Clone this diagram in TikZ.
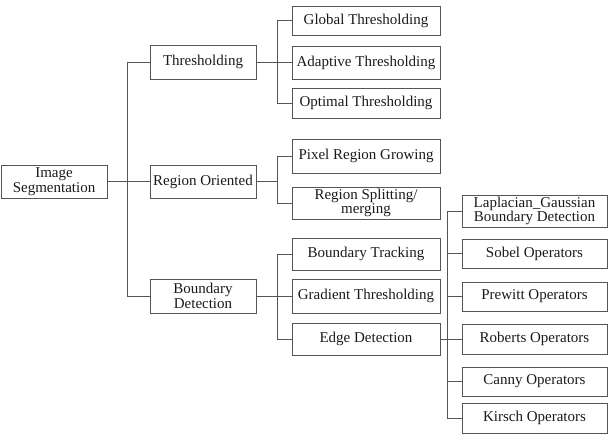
\documentclass[tikz,border=0pt]{standalone}
\usepackage{fontspec}
\setmainfont{Liberation Serif}
\usetikzlibrary{positioning}
\definecolor{rule}{HTML}{555555}
\definecolor{ink}{HTML}{1a1a1a}

\begin{document}
\begin{tikzpicture}[
  x=1pt, y=-1pt,
  every node/.style={font=\fontsize{15}{14.5}\selectfont, text=ink},
  box/.style={draw=rule, line width=0.9pt, inner sep=0pt, align=center, minimum height=32pt},
  lvla/.style={box, minimum width=106pt},
  lvlb/.style={box, minimum width=148pt},
  lvlc/.style={box, minimum width=145pt, minimum height=29pt},
  link/.style={draw=rule, line width=0.9pt}
]
  \useasboundingbox (0,0) rectangle (611,437);

  % Root and first level
  \node[lvla, minimum height=33pt] (seg) at (54,181.5) {Image\\Segmentation};
  \node[lvla, minimum height=34pt] (thr) at (203,62) {Thresholding};
  \node[lvla, minimum height=33pt] (reg) at (203,181.5) {Region Oriented};
  \node[lvla, minimum height=34pt] (bnd) at (203,296) {Boundary\\Detection};

  % Second level
  \node[lvlb, minimum height=29pt] (glob) at (366,20.5) {Global Thresholding};
  \node[lvlb, minimum height=33pt] (adap) at (366,62.5) {Adaptive Thresholding};
  \node[lvlb, minimum height=30pt] (opt)  at (366,103) {Optimal Thresholding};
  \node[lvlb, minimum height=34pt] (pix)  at (366,156) {Pixel Region Growing};
  \node[lvlb, minimum height=32pt] (split) at (366,203) {Region Splitting/\\merging};
  \node[lvlb] (track) at (366,254) {Boundary Tracking};
  \node[lvlb, minimum height=34pt] (grad) at (366,296) {Gradient Thresholding};
  \node[lvlb] (edge) at (366,339) {Edge Detection};

  % Edge operators
  \node[lvlc, minimum height=32pt] (lap) at (534.5,211) {Laplacian\_Gaussian\\Boundary Detection};
  \node[lvlc] (sob) at (534.5,253.5) {Sobel Operators};
  \node[lvlc] (pre) at (534.5,296.5) {Prewitt Operators};
  \node[lvlc, minimum height=30pt] (rob) at (534.5,339) {Roberts Operators};
  \node[lvlc] (can) at (534.5,381.5) {Canny Operators};
  \node[lvlc, minimum height=30pt] (kir) at (534.5,418) {Kirsch Operators};

  % Root links
  \draw[link] (seg.east) -- (reg.west);
  \draw[link] (thr.west) -- ++(-22,0) |- (bnd.west);

  % Thresholding links
  \draw[link] (thr.east) -- ++(22,0);
  \draw[link] (glob.west) -- ++(-14,0) |- (opt.west);
  \draw[link] (adap.west) -- ++(-14,0);

  % Region links
  \draw[link] (reg.east) -- ++(22,0);
  \draw[link] (pix.west) -- ++(-14,0) |- (split.west);

  % Boundary links
  \draw[link] (bnd.east) -- ++(22,0);
  \draw[link] (track.west) -- ++(-14,0) |- (edge.west);
  \draw[link] (grad.west) -- ++(-14,0);

  % Operator links
  \draw[link] (edge.east) -- ++(8,0);
  \draw[link] (lap.west) -- ++(-14,0) |- (kir.west);
  \foreach \n in {sob,pre,rob,can}
    \draw[link] (\n.west) -- ++(-14,0);
\end{tikzpicture}
\end{document}
